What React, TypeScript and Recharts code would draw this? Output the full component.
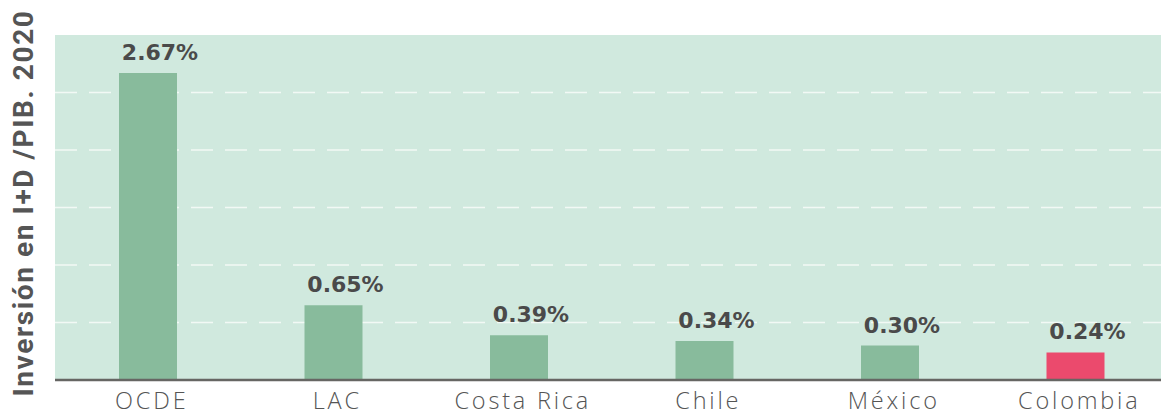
import React from 'react';
import { BarChart, Bar, XAxis, YAxis, CartesianGrid, Cell, LabelList } from 'recharts';

const categories = ['OCDE', 'LAC', 'Costa Rica', 'Chile', 'México', 'Colombia'];
const values = [2.67, 0.65, 0.39, 0.34, 0.30, 0.24];
const valueLabels = ['2.67%', '0.65%', '0.39%', '0.34%', '0.30%', '0.24%'];
const barColors = ['#88bb9c', '#88bb9c', '#88bb9c', '#88bb9c', '#88bb9c', '#eb4a6d'];
const yTicks = [0, 0.5, 1, 1.5, 2, 2.5];
const gridValues = [0.5, 1, 1.5, 2, 2.5];
const yAxisTitle = 'Inversión en I+D /PIB. 2020';

const data = categories.map((c, i) => ({ name: c, value: values[i], label: valueLabels[i] }));

const YTitle = () => (
  <text
    x={23}
    y={203}
    transform="rotate(-90 23 203)"
    textAnchor="middle"
    dominantBaseline="central"
    fontFamily="Roboto, sans-serif"
    fontWeight={700}
    fontSize={28}
    letterSpacing={1.6}
    fill="#555555"
  >
    {yAxisTitle}
  </text>
);

const ValueLabel = (props: any) => {
  const { x, y, width, value } = props;
  return (
    <text
      x={Number(x) + Number(width) / 2 + 12}
      y={Number(y) - 13}
      textAnchor="middle"
      fontFamily='"DejaVu Sans", sans-serif'
      fontWeight={700}
      fontSize={22}
      fill="#4a4a4a"
    >
      {value}
    </text>
  );
};

const gridGenerator = (props: any) => {
  const scale = props?.yAxis?.scale;
  if (typeof scale === 'function') {
    return gridValues.map((v) => scale(v));
  }
  const off = props?.offset;
  if (off) return gridValues.map((v) => off.top + off.height * (1 - v / 3));
  return [];
};

export default function App() {
  return (
    <div style={{ position: 'absolute', left: 0, top: 0, width: 1161, height: 415, overflow: 'hidden', background: '#ffffff' }}>
      <BarChart
        width={1170}
        height={415}
        data={data}
        margin={{ top: 35, right: 2, left: 0, bottom: 0 }}
      >
        <CartesianGrid
          vertical={false}
          fill="#d0e9de"
          fillOpacity={1}
          stroke="#f2f9f5"
          strokeWidth={1.3}
          strokeDasharray="22 12"
          horizontalCoordinatesGenerator={gridGenerator}
        />
        <YAxis
          width={55}
          domain={[0, 3]}
          ticks={yTicks}
          tickFormatter={() => ''}
          axisLine={false}
          tickLine={false}
          label={{ content: () => <YTitle /> }}
        />
        <XAxis
          dataKey="name"
          height={35}
          tickLine={false}
          axisLine={{ stroke: '#666663', strokeWidth: 2.5 }}
          tickMargin={6}
          interval={0}
          tick={{ fontFamily: '"Open Sans", sans-serif', fontWeight: 300, fontSize: 23.5, fill: '#555555', letterSpacing: 2.8, dx: 4 }}
        />
        <Bar dataKey="value" barSize={58} isAnimationActive={false}>
          {data.map((d, i) => (
            <Cell key={d.name} fill={barColors[i]} />
          ))}
          <LabelList dataKey="label" content={ValueLabel} />
        </Bar>
      </BarChart>
    </div>
  );
}
